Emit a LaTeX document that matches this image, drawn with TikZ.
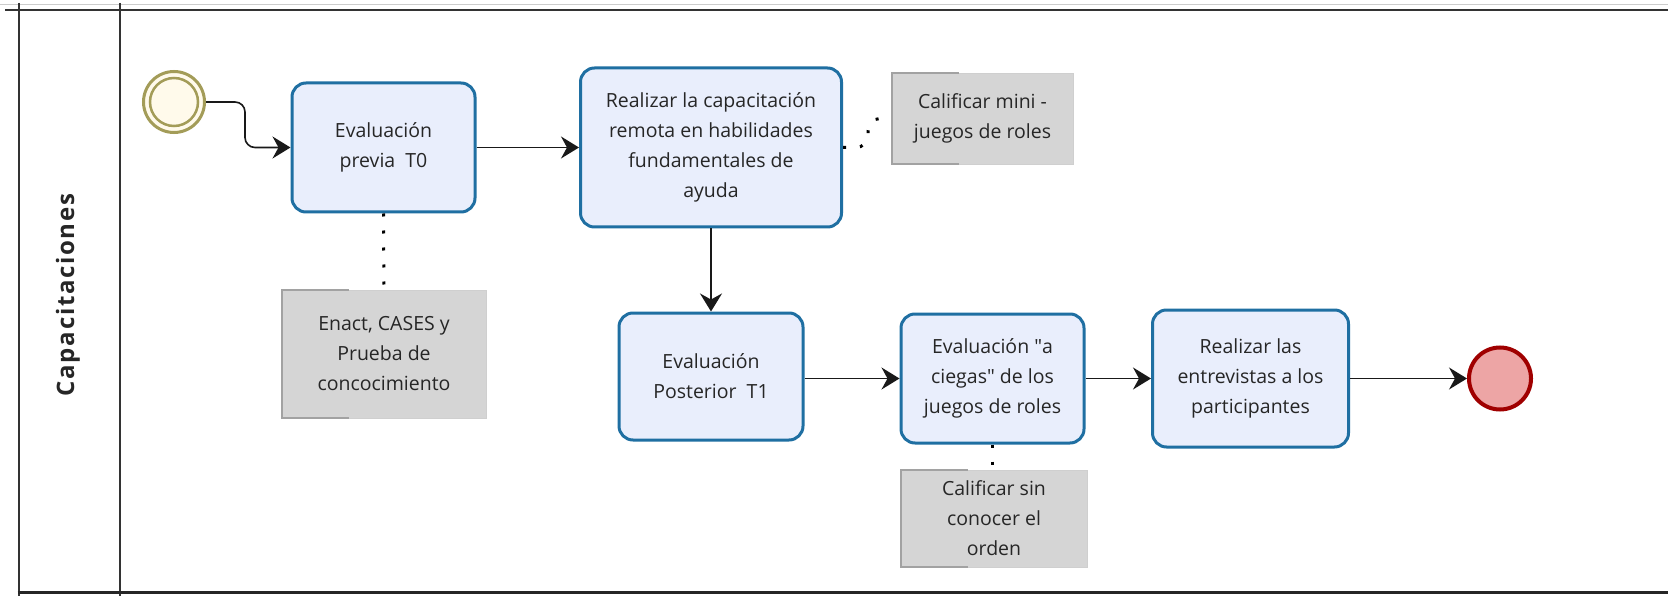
\documentclass[tikz,border=0pt]{standalone}
\usepackage{fontspec}
\setmainfont{Open Sans}
\newfontfamily\lanefont[LetterSpace=7]{Open Sans}
\usetikzlibrary{arrows.meta}
\definecolor{taskfill}{HTML}{E9EEFC}
\definecolor{taskline}{HTML}{1F6FA2}
\definecolor{annofill}{HTML}{D5D5D5}
\definecolor{annoedge}{HTML}{CFCFCF}
\definecolor{annobrk}{HTML}{A2A2A2}
\definecolor{startfill}{HTML}{FFFAEB}
\definecolor{startline}{HTML}{A39C58}
\definecolor{endfill}{HTML}{EDA5A5}
\definecolor{endline}{HTML}{A00000}
\definecolor{txt}{HTML}{262626}
\newcommand{\sq}{\XeTeXglyph\XeTeXcharglyph"22\relax}
\begin{document}
\begin{tikzpicture}[x=1pt,y=-1pt,
  task/.style={draw=taskline, line width=3pt, fill=taskfill, rounded corners=14pt,
    align=center, text=txt, font=\fontsize{19.5}{30}\selectfont, inner sep=0pt},
  anno/.style={draw=annoedge, line width=0.8pt, fill=annofill, align=center, text=txt,
    font=\fontsize{19.5}{30}\selectfont, inner sep=0pt},
  brk/.style={draw=annobrk, line width=2pt},
  flow/.style={draw=black!90, line width=1.6pt, -{Stealth[length=18pt,width=22pt,inset=6pt]}},
  assoc/.style={draw=black, line width=3pt, dash pattern=on 3pt off 14pt},
  lane/.style={draw=black!80, line width=1.8pt}
]
\useasboundingbox (0,0) rectangle (1668,596);
\fill[white] (0,0) rectangle (1668,596);
% pool / lane frame
\draw[draw=black!20, line width=0.8pt] (0,4) -- (1668,4);
\draw[lane] (5,10) -- (1668,10);
\draw[lane] (18.6,3) -- (18.6,596);
\draw[lane] (119.6,3) -- (119.6,596);
\draw[draw=black!85, line width=3pt] (17.7,592) -- (1668,592);
\node[rotate=90, font=\lanefont\bfseries\fontsize{24}{28}\selectfont, text=txt] (lane) at (68,295) {Capacitaciones};

% events
\node[circle, draw=startline, line width=3pt, fill=startfill, minimum size=61pt, inner sep=0pt] (start) at (174,102) {};
\node[circle, draw=startline, line width=2.5pt, minimum size=48pt, inner sep=0pt] (startin) at (start.center) {};
\node[circle, draw=endline, line width=4pt, fill=endfill, minimum size=62pt, inner sep=0pt] (end) at (1500,378.5) {};

% tasks
\node[task, minimum width=183pt, minimum height=129pt] (t1) at (383.5,147.5) {Evaluación\\previa\ \ T0};
\node[task, minimum width=261pt, minimum height=159pt] (t2) at (711,147.5) {Realizar la capacitación\\remota en habilidades\\fundamentales de\\ayuda};
\node[task, minimum width=184pt, minimum height=127pt] (t3) at (711,376.5) {Evaluación\\Posterior\ \ T1};
\node[task, minimum width=183pt, minimum height=129pt] (t4) at (992.5,378.5) {Evaluación \sq a\\ciegas\sq{} de los\\juegos de roles};
\node[task, minimum width=196pt, minimum height=137pt] (t5) at (1250.5,378.5) {Realizar las\\entrevistas a los\\participantes};

% annotations
\node[anno, minimum width=204pt, minimum height=128pt] (a1) at (384,354) {Enact, CASES y\\Prueba de\\concocimiento};
\node[anno, minimum width=181pt, minimum height=91pt] (a2) at (982.5,118.5) {Calificar mini -\\juegos de roles};
\node[anno, minimum width=186pt, minimum height=97pt] (a3) at (994,518.5) {Calificar sin\\conocer el\\orden};
\foreach \a in {a1,a2,a3}{
  \draw[brk] ([xshift=67pt]\a.north west) -- (\a.north west) -- (\a.south west) -- ([xshift=67pt]\a.south west);
}

% sequence flows
\draw[flow, rounded corners=10pt] (start.east) -- ++(39,0) |- (t1.west);
\draw[flow] (t1.east) -- (t2.west);
\draw[flow] (t2.south) -- (t3.north);
\draw[flow] (t3.east |- t4.west) -- (t4.west);
\draw[flow] (t4.east) -- (t5.west);
\draw[flow] (t5.east) -- (end.west);

% associations
\draw[assoc] (t1.south) -- (a1.north);
\draw[assoc, rounded corners=12pt] (t2.east) -- ++(25,0) |- (a2.west);
\draw[assoc] (t4.south) -- (a3.north -| t4.south);
\end{tikzpicture}
\end{document}
